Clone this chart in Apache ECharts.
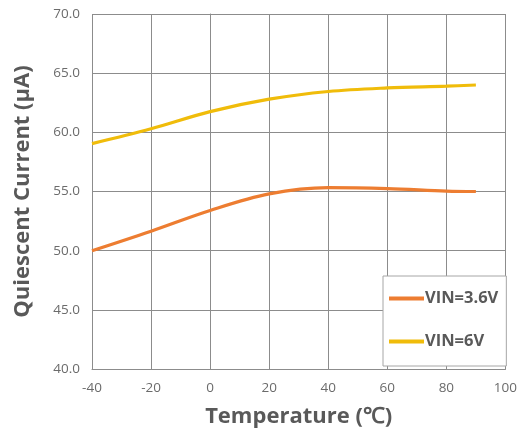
<!DOCTYPE html>
<html>
<head>
<meta charset="utf-8">
<script src="https://cdn.jsdelivr.net/npm/echarts@6/dist/echarts.min.js"></script>
<style>html,body{margin:0;padding:0;background:#fff;}#c{width:520px;height:439px;}</style>
</head>
<body>
<div id="c"></div>
<script>
const temps = [-40, -20, 0, 20, 40, 60, 80, 90];
const vin36 = [50.0, 51.65, 53.4, 54.8, 55.33, 55.25, 55.04, 55.0];
const vin6 = [59.05, 60.3, 61.75, 62.8, 63.45, 63.75, 63.9, 64.0];
const seriesNames = ['VIN=3.6V', 'VIN=6V'];
const xTitle = 'Temperature (℃)';
const yTitle = 'Quiescent Current (μA)';

const chart = echarts.init(document.getElementById('c'), null, {renderer: 'canvas'});
const pair = (xs, ys) => xs.map((x, i) => [x, ys[i]]);
const font = 'Open Sans';
chart.setOption({
  animation: false,
  grid: {left: 92, right: 10, top: 14, bottom: 70},
  xAxis: {
    type: 'value', min: -40, max: 100, interval: 20,
    name: xTitle, nameLocation: 'middle', nameGap: 37,
    nameTextStyle: {fontFamily: font, fontSize: 22, fontWeight: 'bold', color: '#595959'},
    axisLine: {show: true, lineStyle: {color: '#8c8c8c', width: 1}},
    axisTick: {show: false},
    axisLabel: {margin: 12, fontFamily: font, fontSize: 13.5, color: '#6b6b6b'},
    splitLine: {show: true, lineStyle: {color: '#8c8c8c', width: 1}}
  },
  yAxis: {
    type: 'value', min: 40, max: 70, interval: 5,
    name: yTitle, nameLocation: 'middle', nameGap: 58,
    nameTextStyle: {fontFamily: font, fontSize: 22, fontWeight: 'bold', color: '#595959'},
    axisLine: {show: true, lineStyle: {color: '#8c8c8c', width: 1}},
    axisTick: {show: false},
    axisLabel: {margin: 12, fontFamily: font, fontSize: 13.5, color: '#6b6b6b', formatter: v => v.toFixed(1)},
    splitLine: {show: true, lineStyle: {color: '#8c8c8c', width: 1}}
  },
  legend: {
    orient: 'vertical', left: 383, top: 276,
    backgroundColor: '#fff', borderColor: '#a6a6a6', borderWidth: 1,
    padding: [14, 8, 16, 6], itemGap: 26,
    itemWidth: 35, itemHeight: 4, icon: 'rect',
    textStyle: {fontFamily: font, fontSize: 16.5, fontWeight: 'bold', color: '#595959', padding: [0, 0, 0, -4]},
    data: seriesNames
  },
  series: [
    {name: seriesNames[0], type: 'line', smooth: 0.35, showSymbol: false, data: pair(temps, vin36),
     lineStyle: {color: '#ED7D31', width: 3.2}, itemStyle: {color: '#ED7D31'}},
    {name: seriesNames[1], type: 'line', smooth: 0.35, showSymbol: false, data: pair(temps, vin6),
     lineStyle: {color: '#F0BC0A', width: 3.2}, itemStyle: {color: '#F0BC0A'}}
  ]
});
</script>
</body>
</html>
